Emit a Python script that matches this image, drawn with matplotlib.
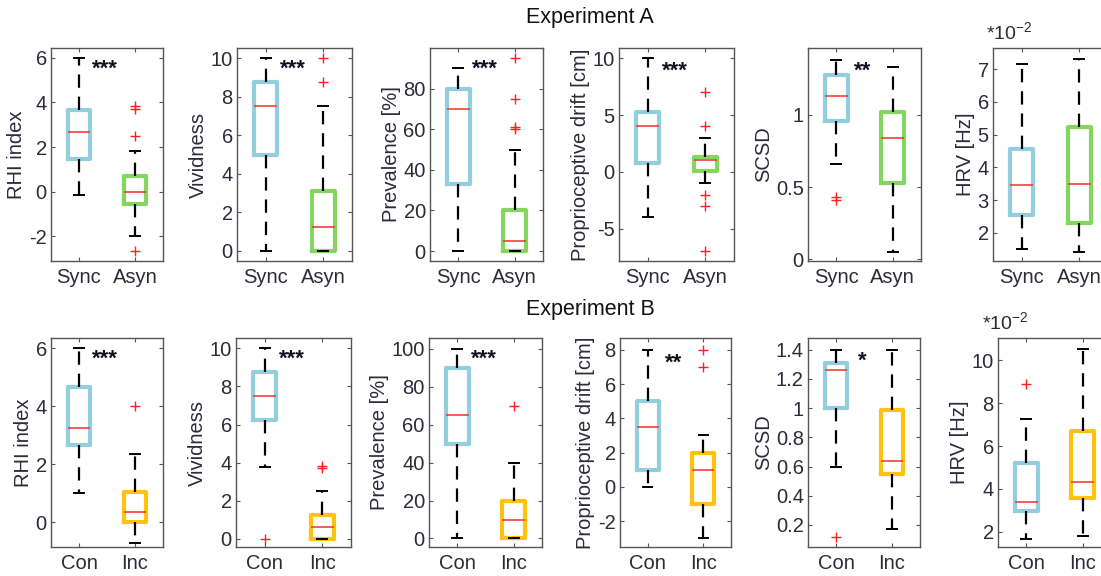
import matplotlib
matplotlib.use("Agg")
import matplotlib.pyplot as plt
from matplotlib.ticker import FormatStrFormatter

plt.rcParams['font.family'] = ['Liberation Sans', 'DejaVu Sans']
plt.rcParams['axes.unicode_minus'] = False

# Box stats per group: [whisker low, q1, median, q3, whisker high]
# Experiment A (Sync / Asyn)
A_GROUPS = ['Sync', 'Asyn']
A_RHI = [[-0.15, 1.45, 2.65, 3.65, 6.0], [-2.0, -0.55, 0.0, 0.7, 1.8]]
A_RHI_OUT = [[], [3.85, 3.7, 2.5, -2.65]]
A_VIV = [[0.0, 5.0, 7.5, 8.75, 10.0], [0.0, 0.0, 1.25, 3.1, 7.5]]
A_VIV_OUT = [[], [10.0, 8.75]]
A_PREV = [[0.0, 33.0, 70.0, 80.0, 90.0], [0.0, 0.0, 5.0, 20.0, 50.0]]
A_PREV_OUT = [[], [95.0, 75.0, 61.0, 60.0]]
A_DRIFT = [[-4.0, 0.75, 4.0, 5.25, 10.0], [-1.0, 0.1, 1.0, 1.3, 3.0]]
A_DRIFT_OUT = [[], [7.0, 4.0, -2.0, -3.0, -7.0]]
A_SCSD = [[0.66, 0.96, 1.13, 1.28, 1.38], [0.05, 0.53, 0.84, 1.02, 1.33]]
A_SCSD_OUT = [[0.43, 0.41], []]
A_HRV = [[1.5, 2.55, 3.45, 4.55, 7.15], [1.4, 2.3, 3.5, 5.25, 7.3]]  # x 10^-2
A_HRV_OUT = [[], []]
A_SIG = ['***', '***', '***', '***', '**', '']

# Experiment B (Con / Inc)
B_GROUPS = ['Con', 'Inc']
B_RHI = [[1.0, 2.65, 3.25, 4.65, 6.0], [-0.7, 0.0, 0.35, 1.05, 2.35]]
B_RHI_OUT = [[], [4.0]]
B_VIV = [[3.75, 6.25, 7.5, 8.75, 10.0], [0.0, 0.0, 0.65, 1.25, 2.5]]
B_VIV_OUT = [[0.0], [3.85, 3.7]]
B_PREV = [[0.0, 50.0, 65.0, 90.0, 100.0], [0.0, 0.0, 10.0, 20.0, 40.0]]
B_PREV_OUT = [[], [70.0]]
B_DRIFT = [[0.0, 1.0, 3.5, 5.0, 8.0], [-3.0, -1.0, 1.0, 2.0, 3.0]]
B_DRIFT_OUT = [[], [8.0, 7.0]]
B_SCSD = [[0.6, 1.0, 1.26, 1.31, 1.4], [0.17, 0.55, 0.64, 0.99, 1.4]]
B_SCSD_OUT = [[0.12], []]
B_HRV = [[1.65, 2.95, 3.4, 5.2, 7.25], [1.8, 3.55, 4.3, 6.7, 10.55]]  # x 10^-2
B_HRV_OUT = [[8.9], []]
B_SIG = ['***', '***', '***', '**', '*', '']

YLABELS = ['RHI index', 'Vividness', 'Prevalence [%]', 'Proprioceptive drift [cm]', 'SCSD', 'HRV [Hz]']

COL_SYNC = '#92CEDD'
COL_ASYN = '#84D65E'
COL_INC = '#FFC20E'
TXT = '#2B2B3A'
FS = 14.5

fig = plt.figure(figsize=(11.01, 5.76), dpi=100)
W, H = 1101.0, 576.0


def make_axes(left, right, top, bottom):
    return fig.add_axes([left / W, 1 - bottom / H, (right - left) / W, (bottom - top) / H])


def draw_panel(ax, stats, outliers, groups, colors, ylabel, ylim, yticks, sig, sig_y):
    bx = []
    for s, o, g in zip(stats, outliers, groups):
        bx.append(dict(whislo=s[0], q1=s[1], med=s[2], q3=s[3], whishi=s[4], fliers=o, label=g))
    res = ax.bxp(bx, positions=[1, 2], widths=0.4, capwidths=0.17,
                 showfliers=True, patch_artist=False,
                 medianprops=dict(color='#F0302C', lw=1.1),
                 whiskerprops=dict(color='black', lw=1.6, linestyle=(0, (6, 4))),
                 capprops=dict(color='black', lw=1.4),
                 flierprops=dict(marker='+', markeredgecolor='#FF2020', markersize=6.5, mew=1.0))
    for b, c in zip(res['boxes'], colors):
        b.set_color(c)
        b.set_linewidth(3.0)
    ax.set_xlim(0.5, 2.5)
    ax.set_ylim(*ylim)
    ax.set_yticks(yticks)
    ax.yaxis.set_major_formatter(FormatStrFormatter('%g'))
    ax.set_ylabel(ylabel, fontsize=FS, color=TXT, labelpad=2)
    ax.tick_params(direction='in', length=3, top=True, right=True, labelsize=FS,
                   colors='#555555', labelcolor=TXT, pad=3)
    ax.tick_params(axis='x', pad=5)
    for sp in ax.spines.values():
        sp.set_color('#555555')
        sp.set_linewidth(1.0)
    if sig:
        ax.text(1.47, sig_y, sig, transform=ax.get_xaxis_transform(),
                ha='center', va='center', fontsize=16, fontweight='bold', color='#111122')


# top row
top_A, bot_A = 48, 261
cols_A = [(51, 163), (237, 352), (430, 543), (619, 734), (808, 921), (993, 1108)]
lims_A = [(-3.1, 6.43), (-0.52, 10.53), (-4.9, 100.1), (-7.85, 10.9), (-0.012, 1.464), (1.14, 7.65)]
ticks_A = [[-2, 0, 2, 4, 6], [0, 2, 4, 6, 8, 10], [0, 20, 40, 60, 80], [-5, 0, 5, 10],
           [0, 0.5, 1], [2, 3, 4, 5, 6, 7]]
data_A = [(A_RHI, A_RHI_OUT), (A_VIV, A_VIV_OUT), (A_PREV, A_PREV_OUT),
          (A_DRIFT, A_DRIFT_OUT), (A_SCSD, A_SCSD_OUT), (A_HRV, A_HRV_OUT)]
sigy_A = [0.9, 0.9, 0.9, 0.89, 0.89, 0.9]

for i in range(6):
    ax = make_axes(cols_A[i][0], cols_A[i][1], top_A, bot_A)
    draw_panel(ax, data_A[i][0], data_A[i][1], A_GROUPS, [COL_SYNC, COL_ASYN], YLABELS[i],
               lims_A[i], ticks_A[i], A_SIG[i], sigy_A[i])
    if i == 5:
        ax.text(-0.06, 1.02, r'*10$^{\mathregular{-2}}$', transform=ax.transAxes, fontsize=14,
                color=TXT, ha='left', va='bottom')

# bottom row
top_B, bot_B = 338, 547
cols_B = [(51, 163), (236, 351), (429, 542), (620, 731), (808, 920), (998, 1111)]
lims_B = [(-0.85, 6.35), (-0.42, 10.54), (-4.5, 105.8), (-3.52, 8.7), (0.049, 1.48), (1.28, 11.05)]
ticks_B = [[0, 2, 4, 6], [0, 2, 4, 6, 8, 10], [0, 20, 40, 60, 80, 100], [-2, 0, 2, 4, 6, 8],
           [0.2, 0.4, 0.6, 0.8, 1, 1.2, 1.4], [2, 4, 6, 8, 10]]
data_B = [(B_RHI, B_RHI_OUT), (B_VIV, B_VIV_OUT), (B_PREV, B_PREV_OUT),
          (B_DRIFT, B_DRIFT_OUT), (B_SCSD, B_SCSD_OUT), (B_HRV, B_HRV_OUT)]
sigy_B = [0.9, 0.9, 0.9, 0.88, 0.89, 0.9]

for i in range(6):
    ax = make_axes(cols_B[i][0], cols_B[i][1], top_B, bot_B)
    draw_panel(ax, data_B[i][0], data_B[i][1], B_GROUPS, [COL_SYNC, COL_INC], YLABELS[i],
               lims_B[i], ticks_B[i], B_SIG[i], sigy_B[i])
    if i == 5:
        ax.text(-0.14, 1.02, r'*10$^{\mathregular{-2}}$', transform=ax.transAxes, fontsize=14,
                color=TXT, ha='left', va='bottom')

fig.text(590 / W, 1 - 18 / H, 'Experiment A', ha='center', va='center', fontsize=15.5, color='#111111')
fig.text(590 / W, 1 - 310 / H, 'Experiment B', ha='center', va='center', fontsize=15.5, color='#111111')

fig.savefig('out.png', dpi=100)
